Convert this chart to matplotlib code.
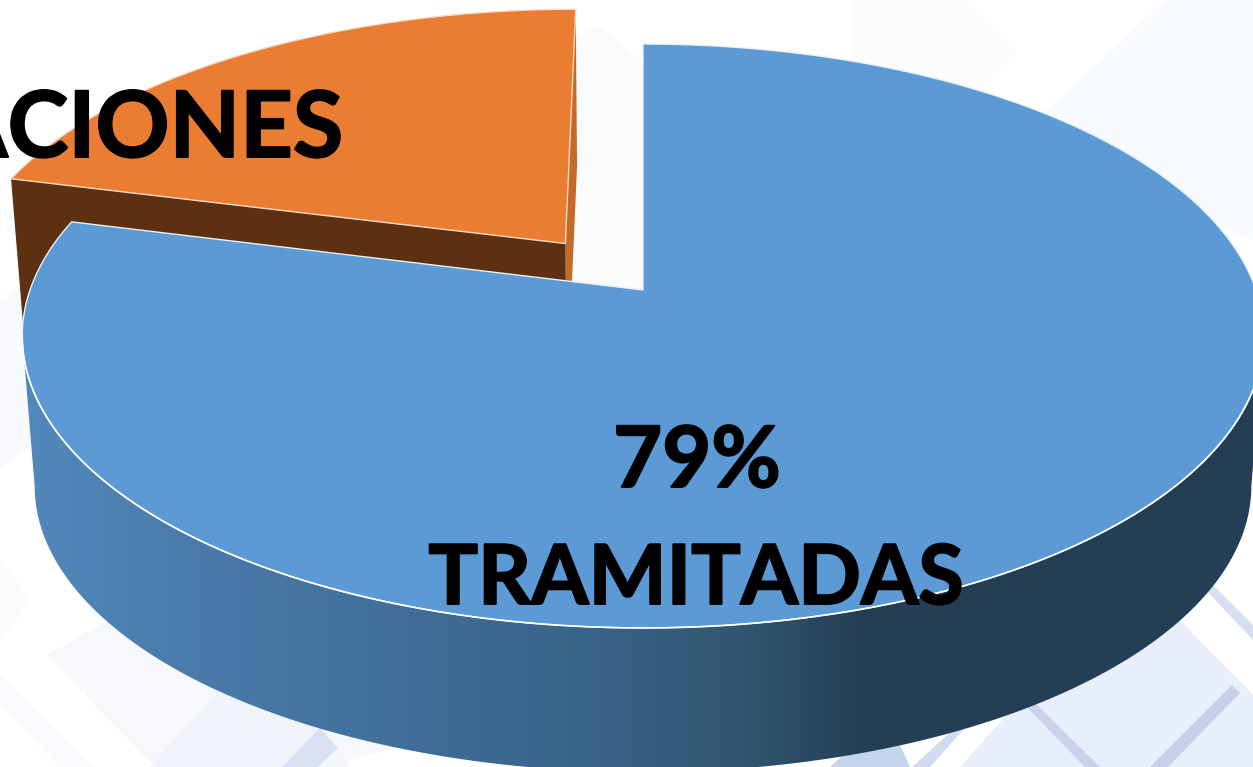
import numpy as np
import matplotlib
matplotlib.use("Agg")
import matplotlib.pyplot as plt
import matplotlib.patheffects as pe
from matplotlib.patches import Polygon
from matplotlib.colors import LinearSegmentedColormap

# Data
categories = ["TRAMITADAS", "ACIONES"]
shares = [79, 21]
value_labels = ["79%", ""]

# Styles
BLUE, ORANGE = "#5B9AD5", "#EB7D32"
BROWN, ORANGE_DARK = "#5E3012", "#C56A28"
WALL_STOPS = [(0.0, "#5289BC"), (0.12, "#4A7CAC"), (0.30, "#416F9A"), (0.45, "#3A6388"),
              (0.58, "#31566F"), (0.68, "#243E55"), (1.0, "#243E55")]

W, H = 1253, 767
fig = plt.figure(figsize=(W / 100, H / 100), dpi=100)
ax = fig.add_axes([0, 0, 1, 1])
ax.set_xlim(0, W)
ax.set_ylim(H, 0)
ax.axis("off")

# Decorative slide background
bg = [
    ("#FAFBFD", [(570, 40), (600, 24), (650, 70), (650, 300), (560, 300)]),
    ("#FCFCFD", [(850, 0), (965, 0), (1017, 52), (960, 110), (850, 110)]),
    ("#F8FBFD", [(1165, 0), (1253, 0), (1253, 240), (1150, 200), (1045, 112)]),
    ("#F9FAFD", [(0, 300), (40, 270), (60, 420), (0, 470)]),
    ("#FAFBFD", [(0, 560), (30, 600), (0, 640)]),
    ("#F6F8FC", [(47, 655), (110, 620), (420, 740), (330, 767), (155, 767)]),
    ("#F0F3FA", [(230, 680), (330, 725), (300, 767), (150, 767)]),
    ("#D8E2F3", [(320, 728), (338, 748), (318, 767), (282, 767)]),
    ("#F5F6FC", [(338, 748), (350, 767), (318, 767)]),
    ("#FAFBFE", [(0, 672), (95, 767), (60, 767), (0, 705)]),
    ("#E9EFFA", [(960, 767), (1020, 700), (1170, 610), (1253, 695), (1253, 767)]),
    ("#C6D5EE", [(830, 767), (875, 725), (900, 745), (910, 767)]),
    ("#C9D2EC", [(1023, 703), (1030, 698), (1100, 767), (1085, 767)]),
    ("#C6D0EA", [(1232, 685), (1240, 693), (1168, 767), (1150, 767)]),
    ("#D8DFF0", [(1203, 587), (1210, 582), (1253, 625), (1253, 640)]),
    ("#D2DCF0", [(912, 767), (955, 728), (965, 728), (930, 767)]),
]
for col, pts in bg:
    ax.add_patch(Polygon(pts, closed=True, fc=col, ec="none", zorder=0))

# Pie geometry: a perspective-projected disc
CX, CY, RX, RY, PERSP = 643.0, 290.0, 613.0, 284.7, 0.1575
DEPTH, SHRINK = 151.0, 0.98
EXPLODE = 0.212


def project(u, v, bottom=False):
    u, v = np.asarray(u, float), np.asarray(v, float)
    s = SHRINK if bottom else 1.0
    d = 1 + PERSP * v
    return CX + s * RX * u / d, CY + (DEPTH if bottom else 0) - s * RY * v / d


def wedge(a0, a1, off=(0, 0), bottom=False, n=300):
    t = np.linspace(a0, a1, n)
    x, y = project(np.sin(t) + off[0], np.cos(t) + off[1], bottom)
    ax0, ay0 = project(off[0], off[1], bottom)
    return np.column_stack([np.r_[ax0, x], np.r_[ay0, y]])


total = sum(shares)
split = 2 * np.pi * shares[0] / total
mid = (split + 2 * np.pi) / 2
off = (EXPLODE * np.sin(mid), EXPLODE * np.cos(mid))

# Orange slice (exploded)
ob = wedge(split, 2 * np.pi, off, True)
ot = wedge(split, 2 * np.pi, off)
ax.add_patch(Polygon([ot[0], ot[-1], ob[-1], ob[0]], fc=ORANGE_DARK, ec="none", zorder=2))
ax.add_patch(Polygon([ot[0], ot[1], ob[1], ob[0]], fc=BROWN, ec="none", zorder=3))
ax.add_patch(Polygon(ot, fc=ORANGE, ec="#F8DCC8", lw=1.0, joinstyle="miter", zorder=4))

# Blue slice: side wall with a horizontal gradient, then the top face
t = np.linspace(np.pi / 2 + np.arcsin(PERSP), 3 * np.pi / 2 - np.arcsin(PERSP), 400)
xt, yt = project(np.sin(t), np.cos(t))
xb, yb = project(np.sin(t), np.cos(t), True)
wall = np.column_stack([np.r_[xt, xb[::-1]], np.r_[yt, yb[::-1]]])
cmap = LinearSegmentedColormap.from_list("wall", WALL_STOPS)
im = ax.imshow(np.linspace(0, 1, 512)[None, :], extent=[22, 1265, H + 20, 300], aspect="auto",
               cmap=cmap, zorder=5, interpolation="bilinear")
ax.set_xlim(0, W)
ax.set_ylim(H, 0)
clip = Polygon(wall, closed=True, transform=ax.transData, fc="none", ec="none")
ax.add_patch(clip)
im.set_clip_path(clip)

top = wedge(0, split)
ax.add_patch(Polygon(top, fc=BLUE, ec="#E8F0F8", lw=1.0, joinstyle="miter", zorder=6))
ax.plot(xt, yt, color="white", lw=1.2, zorder=7)

# Labels
font = dict(family="Lato", weight="bold", color="black", zorder=10,
            path_effects=[pe.withStroke(linewidth=1.4, foreground="black")])
ax.text(697, 487, value_labels[0], ha="center", va="baseline", fontsize=61, **font)
ax.text(696, 604, categories[0], ha="center", va="baseline", fontsize=59.5, **font)
ax.text(343, 157, categories[1], ha="right", va="baseline", fontsize=66, **font)

fig.savefig("out.png", dpi=100)
